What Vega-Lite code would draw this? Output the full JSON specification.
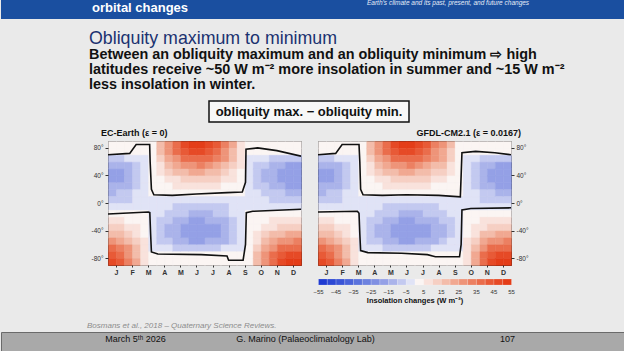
{
 "$schema": "https://vega.github.io/schema/vega-lite/v6.json",
 "padding": 0,
 "background": "#eaeaea",
 "spacing": 0,
 "config": {
  "font": "Liberation Sans",
  "view": {"stroke": null},
  "axis": {"labelFont": "Liberation Sans", "titleFont": "Liberation Sans", "grid": false, "domain": false},
  "title": {"font": "Liberation Sans", "subtitleFont": "Liberation Sans"}
 },
 "datasets": {
  "grid": [
   {"m":0.75,"l":85,"v":0.5},{"m":0.75,"l":75,"v":0.3},{"m":0.75,"l":65,"v":-6.6},{"m":0.75,"l":55,"v":-14.6},{"m":0.75,"l":45,"v":-17.9},{"m":0.75,"l":35,"v":-17.9},{"m":0.75,"l":25,"v":-15.0},{"m":0.75,"l":15,"v":-10.3},{"m":0.75,"l":5,"v":-7.5},{"m":0.75,"l":-5,"v":-4.7},{"m":0.75,"l":-15,"v":1.4},{"m":0.75,"l":-25,"v":6.6},{"m":0.75,"l":-35,"v":12.2},{"m":0.75,"l":-45,"v":19.7},{"m":0.75,"l":-55,"v":28.2},{"m":0.75,"l":-65,"v":36.7},{"m":0.75,"l":-75,"v":43.2},{"m":0.75,"l":-85,"v":47.9},
   {"m":1.25,"l":85,"v":0.4},{"m":1.25,"l":75,"v":0.2},{"m":1.25,"l":65,"v":-5.7},{"m":1.25,"l":55,"v":-12.7},{"m":1.25,"l":45,"v":-15.6},{"m":1.25,"l":35,"v":-15.6},{"m":1.25,"l":25,"v":-13.1},{"m":1.25,"l":15,"v":-9.0},{"m":1.25,"l":5,"v":-6.6},{"m":1.25,"l":-5,"v":-4.1},{"m":1.25,"l":-15,"v":1.2},{"m":1.25,"l":-25,"v":5.7},{"m":1.25,"l":-35,"v":10.7},{"m":1.25,"l":-45,"v":17.2},{"m":1.25,"l":-55,"v":24.6},{"m":1.25,"l":-65,"v":32.0},{"m":1.25,"l":-75,"v":37.7},{"m":1.25,"l":-85,"v":41.8},
   {"m":1.75,"l":85,"v":0.3},{"m":1.75,"l":75,"v":0.2},{"m":1.75,"l":65,"v":-4.6},{"m":1.75,"l":55,"v":-10.1},{"m":1.75,"l":45,"v":-12.4},{"m":1.75,"l":35,"v":-12.4},{"m":1.75,"l":25,"v":-10.4},{"m":1.75,"l":15,"v":-7.2},{"m":1.75,"l":5,"v":-5.2},{"m":1.75,"l":-5,"v":-3.3},{"m":1.75,"l":-15,"v":1.0},{"m":1.75,"l":-25,"v":4.6},{"m":1.75,"l":-35,"v":8.5},{"m":1.75,"l":-45,"v":13.7},{"m":1.75,"l":-55,"v":19.5},{"m":1.75,"l":-65,"v":25.4},{"m":1.75,"l":-75,"v":29.9},{"m":1.75,"l":-85,"v":33.2},
   {"m":2.25,"l":85,"v":0.2},{"m":2.25,"l":75,"v":0.1},{"m":2.25,"l":65,"v":-3.0},{"m":2.25,"l":55,"v":-6.7},{"m":2.25,"l":45,"v":-8.2},{"m":2.25,"l":35,"v":-8.2},{"m":2.25,"l":25,"v":-6.9},{"m":2.25,"l":15,"v":-4.7},{"m":2.25,"l":5,"v":-3.4},{"m":2.25,"l":-5,"v":-2.2},{"m":2.25,"l":-15,"v":0.6},{"m":2.25,"l":-25,"v":3.0},{"m":2.25,"l":-35,"v":5.6},{"m":2.25,"l":-45,"v":9.0},{"m":2.25,"l":-55,"v":12.9},{"m":2.25,"l":-65,"v":16.8},{"m":2.25,"l":-75,"v":19.8},{"m":2.25,"l":-85,"v":21.9},
   {"m":2.75,"l":85,"v":0.1},{"m":2.75,"l":75,"v":0.1},{"m":2.75,"l":65,"v":-1.3},{"m":2.75,"l":55,"v":-2.8},{"m":2.75,"l":45,"v":-3.4},{"m":2.75,"l":35,"v":-3.4},{"m":2.75,"l":25,"v":-2.9},{"m":2.75,"l":15,"v":-2.0},{"m":2.75,"l":5,"v":-1.4},{"m":2.75,"l":-5,"v":-0.9},{"m":2.75,"l":-15,"v":0.3},{"m":2.75,"l":-25,"v":1.3},{"m":2.75,"l":-35,"v":2.3},{"m":2.75,"l":-45,"v":3.8},{"m":2.75,"l":-55,"v":5.4},{"m":2.75,"l":-65,"v":7.0},{"m":2.75,"l":-75,"v":8.3},{"m":2.75,"l":-85,"v":9.2},
   {"m":3.25,"l":85,"v":4.1},{"m":3.25,"l":75,"v":3.7},{"m":3.25,"l":65,"v":3.1},{"m":3.25,"l":55,"v":2.4},{"m":3.25,"l":45,"v":1.7},{"m":3.25,"l":35,"v":1.0},{"m":3.25,"l":25,"v":0.6},{"m":3.25,"l":15,"v":0.1},{"m":3.25,"l":5,"v":-0.4},{"m":3.25,"l":-5,"v":-0.6},{"m":3.25,"l":-15,"v":-0.9},{"m":3.25,"l":-25,"v":-1.3},{"m":3.25,"l":-35,"v":-1.5},{"m":3.25,"l":-45,"v":-1.5},{"m":3.25,"l":-55,"v":-1.2},{"m":3.25,"l":-65,"v":-0.6},{"m":3.25,"l":-75,"v":0.0},{"m":3.25,"l":-85,"v":0.0},
   {"m":3.75,"l":85,"v":16.8},{"m":3.75,"l":75,"v":15.2},{"m":3.75,"l":65,"v":12.9},{"m":3.75,"l":55,"v":9.9},{"m":3.75,"l":45,"v":6.9},{"m":3.75,"l":35,"v":4.3},{"m":3.75,"l":25,"v":2.3},{"m":3.75,"l":15,"v":0.5},{"m":3.75,"l":5,"v":-1.7},{"m":3.75,"l":-5,"v":-2.6},{"m":3.75,"l":-15,"v":-3.6},{"m":3.75,"l":-25,"v":-5.3},{"m":3.75,"l":-35,"v":-6.3},{"m":3.75,"l":-45,"v":-6.3},{"m":3.75,"l":-55,"v":-5.1},{"m":3.75,"l":-65,"v":-2.3},{"m":3.75,"l":-75,"v":0.1},{"m":3.75,"l":-85,"v":0.2},
   {"m":4.25,"l":85,"v":29.1},{"m":4.25,"l":75,"v":26.2},{"m":4.25,"l":65,"v":22.2},{"m":4.25,"l":55,"v":17.1},{"m":4.25,"l":45,"v":12.0},{"m":4.25,"l":35,"v":7.4},{"m":4.25,"l":25,"v":4.0},{"m":4.25,"l":15,"v":0.9},{"m":4.25,"l":5,"v":-2.9},{"m":4.25,"l":-5,"v":-4.6},{"m":4.25,"l":-15,"v":-6.3},{"m":4.25,"l":-25,"v":-9.1},{"m":4.25,"l":-35,"v":-10.8},{"m":4.25,"l":-45,"v":-10.8},{"m":4.25,"l":-55,"v":-8.8},{"m":4.25,"l":-65,"v":-4.0},{"m":4.25,"l":-75,"v":0.2},{"m":4.25,"l":-85,"v":0.3},
   {"m":4.75,"l":85,"v":38.8},{"m":4.75,"l":75,"v":35.0},{"m":4.75,"l":65,"v":29.6},{"m":4.75,"l":55,"v":22.8},{"m":4.75,"l":45,"v":16.0},{"m":4.75,"l":35,"v":9.9},{"m":4.75,"l":25,"v":5.3},{"m":4.75,"l":15,"v":1.1},{"m":4.75,"l":5,"v":-3.8},{"m":4.75,"l":-5,"v":-6.1},{"m":4.75,"l":-15,"v":-8.4},{"m":4.75,"l":-25,"v":-12.2},{"m":4.75,"l":-35,"v":-14.4},{"m":4.75,"l":-45,"v":-14.4},{"m":4.75,"l":-55,"v":-11.8},{"m":4.75,"l":-65,"v":-5.3},{"m":4.75,"l":-75,"v":0.2},{"m":4.75,"l":-85,"v":0.4},
   {"m":5.25,"l":85,"v":45.9},{"m":5.25,"l":75,"v":41.4},{"m":5.25,"l":65,"v":35.1},{"m":5.25,"l":55,"v":27.0},{"m":5.25,"l":45,"v":18.9},{"m":5.25,"l":35,"v":11.7},{"m":5.25,"l":25,"v":6.3},{"m":5.25,"l":15,"v":1.4},{"m":5.25,"l":5,"v":-4.5},{"m":5.25,"l":-5,"v":-7.2},{"m":5.25,"l":-15,"v":-9.9},{"m":5.25,"l":-25,"v":-14.4},{"m":5.25,"l":-35,"v":-17.1},{"m":5.25,"l":-45,"v":-17.1},{"m":5.25,"l":-55,"v":-14.0},{"m":5.25,"l":-65,"v":-6.3},{"m":5.25,"l":-75,"v":0.3},{"m":5.25,"l":-85,"v":0.5},
   {"m":5.75,"l":85,"v":50.0},{"m":5.75,"l":75,"v":45.1},{"m":5.75,"l":65,"v":38.2},{"m":5.75,"l":55,"v":29.4},{"m":5.75,"l":45,"v":20.6},{"m":5.75,"l":35,"v":12.7},{"m":5.75,"l":25,"v":6.9},{"m":5.75,"l":15,"v":1.5},{"m":5.75,"l":5,"v":-4.9},{"m":5.75,"l":-5,"v":-7.8},{"m":5.75,"l":-15,"v":-10.8},{"m":5.75,"l":-25,"v":-15.7},{"m":5.75,"l":-35,"v":-18.6},{"m":5.75,"l":-45,"v":-18.6},{"m":5.75,"l":-55,"v":-15.2},{"m":5.75,"l":-65,"v":-6.9},{"m":5.75,"l":-75,"v":0.3},{"m":5.75,"l":-85,"v":0.5},
   {"m":6.25,"l":85,"v":51},{"m":6.25,"l":75,"v":46},{"m":6.25,"l":65,"v":39},{"m":6.25,"l":55,"v":30},{"m":6.25,"l":45,"v":21},{"m":6.25,"l":35,"v":13},{"m":6.25,"l":25,"v":7},{"m":6.25,"l":15,"v":1.5},{"m":6.25,"l":5,"v":-5},{"m":6.25,"l":-5,"v":-8},{"m":6.25,"l":-15,"v":-11},{"m":6.25,"l":-25,"v":-16},{"m":6.25,"l":-35,"v":-19},{"m":6.25,"l":-45,"v":-19},{"m":6.25,"l":-55,"v":-15.5},{"m":6.25,"l":-65,"v":-7},{"m":6.25,"l":-75,"v":0.3},{"m":6.25,"l":-85,"v":0.5},
   {"m":6.75,"l":85,"v":47.9},{"m":6.75,"l":75,"v":43.2},{"m":6.75,"l":65,"v":36.7},{"m":6.75,"l":55,"v":28.2},{"m":6.75,"l":45,"v":19.7},{"m":6.75,"l":35,"v":12.2},{"m":6.75,"l":25,"v":6.6},{"m":6.75,"l":15,"v":1.4},{"m":6.75,"l":5,"v":-4.7},{"m":6.75,"l":-5,"v":-7.5},{"m":6.75,"l":-15,"v":-10.3},{"m":6.75,"l":-25,"v":-15.0},{"m":6.75,"l":-35,"v":-17.9},{"m":6.75,"l":-45,"v":-17.9},{"m":6.75,"l":-55,"v":-14.6},{"m":6.75,"l":-65,"v":-6.6},{"m":6.75,"l":-75,"v":0.3},{"m":6.75,"l":-85,"v":0.5},
   {"m":7.25,"l":85,"v":41.8},{"m":7.25,"l":75,"v":37.7},{"m":7.25,"l":65,"v":32.0},{"m":7.25,"l":55,"v":24.6},{"m":7.25,"l":45,"v":17.2},{"m":7.25,"l":35,"v":10.7},{"m":7.25,"l":25,"v":5.7},{"m":7.25,"l":15,"v":1.2},{"m":7.25,"l":5,"v":-4.1},{"m":7.25,"l":-5,"v":-6.6},{"m":7.25,"l":-15,"v":-9.0},{"m":7.25,"l":-25,"v":-13.1},{"m":7.25,"l":-35,"v":-15.6},{"m":7.25,"l":-45,"v":-15.6},{"m":7.25,"l":-55,"v":-12.7},{"m":7.25,"l":-65,"v":-5.7},{"m":7.25,"l":-75,"v":0.2},{"m":7.25,"l":-85,"v":0.4},
   {"m":7.75,"l":85,"v":33.2},{"m":7.75,"l":75,"v":29.9},{"m":7.75,"l":65,"v":25.4},{"m":7.75,"l":55,"v":19.5},{"m":7.75,"l":45,"v":13.7},{"m":7.75,"l":35,"v":8.5},{"m":7.75,"l":25,"v":4.6},{"m":7.75,"l":15,"v":1.0},{"m":7.75,"l":5,"v":-3.3},{"m":7.75,"l":-5,"v":-5.2},{"m":7.75,"l":-15,"v":-7.2},{"m":7.75,"l":-25,"v":-10.4},{"m":7.75,"l":-35,"v":-12.4},{"m":7.75,"l":-45,"v":-12.4},{"m":7.75,"l":-55,"v":-10.1},{"m":7.75,"l":-65,"v":-4.6},{"m":7.75,"l":-75,"v":0.2},{"m":7.75,"l":-85,"v":0.3},
   {"m":8.25,"l":85,"v":21.9},{"m":8.25,"l":75,"v":19.8},{"m":8.25,"l":65,"v":16.8},{"m":8.25,"l":55,"v":12.9},{"m":8.25,"l":45,"v":9.0},{"m":8.25,"l":35,"v":5.6},{"m":8.25,"l":25,"v":3.0},{"m":8.25,"l":15,"v":0.6},{"m":8.25,"l":5,"v":-2.2},{"m":8.25,"l":-5,"v":-3.4},{"m":8.25,"l":-15,"v":-4.7},{"m":8.25,"l":-25,"v":-6.9},{"m":8.25,"l":-35,"v":-8.2},{"m":8.25,"l":-45,"v":-8.2},{"m":8.25,"l":-55,"v":-6.7},{"m":8.25,"l":-65,"v":-3.0},{"m":8.25,"l":-75,"v":0.1},{"m":8.25,"l":-85,"v":0.2},
   {"m":8.75,"l":85,"v":9.2},{"m":8.75,"l":75,"v":8.3},{"m":8.75,"l":65,"v":7.0},{"m":8.75,"l":55,"v":5.4},{"m":8.75,"l":45,"v":3.8},{"m":8.75,"l":35,"v":2.3},{"m":8.75,"l":25,"v":1.3},{"m":8.75,"l":15,"v":0.3},{"m":8.75,"l":5,"v":-0.9},{"m":8.75,"l":-5,"v":-1.4},{"m":8.75,"l":-15,"v":-2.0},{"m":8.75,"l":-25,"v":-2.9},{"m":8.75,"l":-35,"v":-3.4},{"m":8.75,"l":-45,"v":-3.4},{"m":8.75,"l":-55,"v":-2.8},{"m":8.75,"l":-65,"v":-1.3},{"m":8.75,"l":-75,"v":0.1},{"m":8.75,"l":-85,"v":0.1},
   {"m":9.25,"l":85,"v":0.0},{"m":9.25,"l":75,"v":0.0},{"m":9.25,"l":65,"v":-0.6},{"m":9.25,"l":55,"v":-1.2},{"m":9.25,"l":45,"v":-1.5},{"m":9.25,"l":35,"v":-1.5},{"m":9.25,"l":25,"v":-1.3},{"m":9.25,"l":15,"v":-0.9},{"m":9.25,"l":5,"v":-0.6},{"m":9.25,"l":-5,"v":-0.4},{"m":9.25,"l":-15,"v":0.1},{"m":9.25,"l":-25,"v":0.6},{"m":9.25,"l":-35,"v":1.0},{"m":9.25,"l":-45,"v":1.7},{"m":9.25,"l":-55,"v":2.4},{"m":9.25,"l":-65,"v":3.1},{"m":9.25,"l":-75,"v":3.7},{"m":9.25,"l":-85,"v":4.1},
   {"m":9.75,"l":85,"v":0.2},{"m":9.75,"l":75,"v":0.1},{"m":9.75,"l":65,"v":-2.3},{"m":9.75,"l":55,"v":-5.1},{"m":9.75,"l":45,"v":-6.3},{"m":9.75,"l":35,"v":-6.3},{"m":9.75,"l":25,"v":-5.3},{"m":9.75,"l":15,"v":-3.6},{"m":9.75,"l":5,"v":-2.6},{"m":9.75,"l":-5,"v":-1.7},{"m":9.75,"l":-15,"v":0.5},{"m":9.75,"l":-25,"v":2.3},{"m":9.75,"l":-35,"v":4.3},{"m":9.75,"l":-45,"v":6.9},{"m":9.75,"l":-55,"v":9.9},{"m":9.75,"l":-65,"v":12.9},{"m":9.75,"l":-75,"v":15.2},{"m":9.75,"l":-85,"v":16.8},
   {"m":10.25,"l":85,"v":0.3},{"m":10.25,"l":75,"v":0.2},{"m":10.25,"l":65,"v":-4.0},{"m":10.25,"l":55,"v":-8.8},{"m":10.25,"l":45,"v":-10.8},{"m":10.25,"l":35,"v":-10.8},{"m":10.25,"l":25,"v":-9.1},{"m":10.25,"l":15,"v":-6.3},{"m":10.25,"l":5,"v":-4.6},{"m":10.25,"l":-5,"v":-2.9},{"m":10.25,"l":-15,"v":0.9},{"m":10.25,"l":-25,"v":4.0},{"m":10.25,"l":-35,"v":7.4},{"m":10.25,"l":-45,"v":12.0},{"m":10.25,"l":-55,"v":17.1},{"m":10.25,"l":-65,"v":22.2},{"m":10.25,"l":-75,"v":26.2},{"m":10.25,"l":-85,"v":29.1},
   {"m":10.75,"l":85,"v":0.4},{"m":10.75,"l":75,"v":0.2},{"m":10.75,"l":65,"v":-5.3},{"m":10.75,"l":55,"v":-11.8},{"m":10.75,"l":45,"v":-14.4},{"m":10.75,"l":35,"v":-14.4},{"m":10.75,"l":25,"v":-12.2},{"m":10.75,"l":15,"v":-8.4},{"m":10.75,"l":5,"v":-6.1},{"m":10.75,"l":-5,"v":-3.8},{"m":10.75,"l":-15,"v":1.1},{"m":10.75,"l":-25,"v":5.3},{"m":10.75,"l":-35,"v":9.9},{"m":10.75,"l":-45,"v":16.0},{"m":10.75,"l":-55,"v":22.8},{"m":10.75,"l":-65,"v":29.6},{"m":10.75,"l":-75,"v":35.0},{"m":10.75,"l":-85,"v":38.8},
   {"m":11.25,"l":85,"v":0.5},{"m":11.25,"l":75,"v":0.3},{"m":11.25,"l":65,"v":-6.3},{"m":11.25,"l":55,"v":-14.0},{"m":11.25,"l":45,"v":-17.1},{"m":11.25,"l":35,"v":-17.1},{"m":11.25,"l":25,"v":-14.4},{"m":11.25,"l":15,"v":-9.9},{"m":11.25,"l":5,"v":-7.2},{"m":11.25,"l":-5,"v":-4.5},{"m":11.25,"l":-15,"v":1.4},{"m":11.25,"l":-25,"v":6.3},{"m":11.25,"l":-35,"v":11.7},{"m":11.25,"l":-45,"v":18.9},{"m":11.25,"l":-55,"v":27.0},{"m":11.25,"l":-65,"v":35.1},{"m":11.25,"l":-75,"v":41.4},{"m":11.25,"l":-85,"v":45.9},
   {"m":11.75,"l":85,"v":0.5},{"m":11.75,"l":75,"v":0.3},{"m":11.75,"l":65,"v":-6.9},{"m":11.75,"l":55,"v":-15.2},{"m":11.75,"l":45,"v":-18.6},{"m":11.75,"l":35,"v":-18.6},{"m":11.75,"l":25,"v":-15.7},{"m":11.75,"l":15,"v":-10.8},{"m":11.75,"l":5,"v":-7.8},{"m":11.75,"l":-5,"v":-4.9},{"m":11.75,"l":-15,"v":1.5},{"m":11.75,"l":-25,"v":6.9},{"m":11.75,"l":-35,"v":12.7},{"m":11.75,"l":-45,"v":20.6},{"m":11.75,"l":-55,"v":29.4},{"m":11.75,"l":-65,"v":38.2},{"m":11.75,"l":-75,"v":45.1},{"m":11.75,"l":-85,"v":50.0},
   {"m":12.25,"l":85,"v":0.5},{"m":12.25,"l":75,"v":0.3},{"m":12.25,"l":65,"v":-7},{"m":12.25,"l":55,"v":-15.5},{"m":12.25,"l":45,"v":-19},{"m":12.25,"l":35,"v":-19},{"m":12.25,"l":25,"v":-16},{"m":12.25,"l":15,"v":-11},{"m":12.25,"l":5,"v":-8},{"m":12.25,"l":-5,"v":-5},{"m":12.25,"l":-15,"v":1.5},{"m":12.25,"l":-25,"v":7},{"m":12.25,"l":-35,"v":13},{"m":12.25,"l":-45,"v":21},{"m":12.25,"l":-55,"v":30},{"m":12.25,"l":-65,"v":39},{"m":12.25,"l":-75,"v":46},{"m":12.25,"l":-85,"v":51}
  ],
  "gfdl": [
   {"m":8.25,"l":85,"v":27.5},{"m":8.25,"l":75,"v":24.8},{"m":8.25,"l":65,"v":21.1},{"m":8.25,"l":55,"v":16.2},{"m":8.25,"l":45,"v":11.3},{"m":8.25,"l":35,"v":7.0},{"m":8.25,"l":25,"v":3.8},{"m":8.25,"l":15,"v":0.8},{"m":8.25,"l":5,"v":-2.7},{"m":8.25,"l":-5,"v":-4.3},{"m":8.25,"l":-15,"v":-5.9},{"m":8.25,"l":-25,"v":-8.6},{"m":8.25,"l":-35,"v":-10.3},{"m":8.25,"l":-45,"v":-10.3},{"m":8.25,"l":-55,"v":-8.4},{"m":8.25,"l":-65,"v":-3.8},{"m":8.25,"l":-75,"v":0.2},{"m":8.25,"l":-85,"v":0.3},
   {"m":8.75,"l":85,"v":16.3},{"m":8.75,"l":75,"v":14.7},{"m":8.75,"l":65,"v":12.5},{"m":8.75,"l":55,"v":9.6},{"m":8.75,"l":45,"v":6.7},{"m":8.75,"l":35,"v":4.2},{"m":8.75,"l":25,"v":2.2},{"m":8.75,"l":15,"v":0.5},{"m":8.75,"l":5,"v":-1.6},{"m":8.75,"l":-5,"v":-2.6},{"m":8.75,"l":-15,"v":-3.5},{"m":8.75,"l":-25,"v":-5.1},{"m":8.75,"l":-35,"v":-6.1},{"m":8.75,"l":-45,"v":-6.1},{"m":8.75,"l":-55,"v":-5.0},{"m":8.75,"l":-65,"v":-2.2},{"m":8.75,"l":-75,"v":0.1},{"m":8.75,"l":-85,"v":0.2},
   {"m":9.25,"l":85,"v":3.8},{"m":9.25,"l":75,"v":3.5},{"m":9.25,"l":65,"v":2.9},{"m":9.25,"l":55,"v":2.3},{"m":9.25,"l":45,"v":1.6},{"m":9.25,"l":35,"v":1.0},{"m":9.25,"l":25,"v":0.5},{"m":9.25,"l":15,"v":0.1},{"m":9.25,"l":5,"v":-0.4},{"m":9.25,"l":-5,"v":-0.6},{"m":9.25,"l":-15,"v":-0.8},{"m":9.25,"l":-25,"v":-1.2},{"m":9.25,"l":-35,"v":-1.4},{"m":9.25,"l":-45,"v":-1.4},{"m":9.25,"l":-55,"v":-1.2},{"m":9.25,"l":-65,"v":-0.5},{"m":9.25,"l":-75,"v":0.0},{"m":9.25,"l":-85,"v":0.0},
   {"m":9.75,"l":85,"v":0.1},{"m":9.75,"l":75,"v":0.1},{"m":9.75,"l":65,"v":-1.3},{"m":9.75,"l":55,"v":-2.9},{"m":9.75,"l":45,"v":-3.6},{"m":9.75,"l":35,"v":-3.6},{"m":9.75,"l":25,"v":-3.0},{"m":9.75,"l":15,"v":-2.1},{"m":9.75,"l":5,"v":-1.5},{"m":9.75,"l":-5,"v":-1.0},{"m":9.75,"l":-15,"v":0.3},{"m":9.75,"l":-25,"v":1.3},{"m":9.75,"l":-35,"v":2.5},{"m":9.75,"l":-45,"v":4.0},{"m":9.75,"l":-55,"v":5.7},{"m":9.75,"l":-65,"v":7.4},{"m":9.75,"l":-75,"v":8.7},{"m":9.75,"l":-85,"v":9.7},
   {"m":10.25,"l":85,"v":0.2},{"m":10.25,"l":75,"v":0.1},{"m":10.25,"l":65,"v":-3.2},{"m":10.25,"l":55,"v":-7.0},{"m":10.25,"l":45,"v":-8.6},{"m":10.25,"l":35,"v":-8.6},{"m":10.25,"l":25,"v":-7.2},{"m":10.25,"l":15,"v":-5.0},{"m":10.25,"l":5,"v":-3.6},{"m":10.25,"l":-5,"v":-2.3},{"m":10.25,"l":-15,"v":0.7},{"m":10.25,"l":-25,"v":3.2},{"m":10.25,"l":-35,"v":5.9},{"m":10.25,"l":-45,"v":9.5},{"m":10.25,"l":-55,"v":13.5},{"m":10.25,"l":-65,"v":17.6},{"m":10.25,"l":-75,"v":20.7},{"m":10.25,"l":-85,"v":23.0}
  ],
  "zero": [
   {"k":"u","o":1,"m":0.5,"l":70},{"k":"u","o":2,"m":1.85,"l":72},{"k":"u","o":3,"m":2.25,"l":85},{"k":"u","o":4,"m":3.09,"l":85},{"k":"u","o":5,"m":3.12,"l":60},{"k":"u","o":6,"m":3.2,"l":20},{"k":"u","o":7,"m":3.35,"l":12},{"k":"u","o":8,"m":4.5,"l":11},{"k":"u","o":9,"m":6.0,"l":13},{"k":"u","o":10,"m":7.9,"l":15},{"k":"u","o":11,"m":8.85,"l":16},{"k":"u","o":12,"m":9.05,"l":30},{"k":"u","o":13,"m":9.08,"l":78},{"k":"u","o":14,"m":9.8,"l":80},{"k":"u","o":15,"m":11.0,"l":76},{"k":"u","o":16,"m":12.5,"l":68},
   {"k":"d","o":1,"m":0.5,"l":-16},{"k":"d","o":2,"m":3.0,"l":-13},{"k":"d","o":3,"m":3.1,"l":-14},{"k":"d","o":4,"m":3.15,"l":-45},{"k":"d","o":5,"m":3.2,"l":-71},{"k":"d","o":6,"m":3.6,"l":-74},{"k":"d","o":7,"m":6.3,"l":-75},{"k":"d","o":8,"m":7.9,"l":-77},{"k":"d","o":9,"m":8.0,"l":-83},{"k":"d","o":10,"m":8.9,"l":-83},{"k":"d","o":11,"m":9.05,"l":-60},{"k":"d","o":12,"m":9.1,"l":-14},{"k":"d","o":13,"m":9.5,"l":-12},{"k":"d","o":14,"m":12.5,"l":-9}
  ],
  "zeroG": [
   {"k":"u","o":1,"m":0.5,"l":70},{"k":"u","o":2,"m":1.6,"l":72},{"k":"u","o":3,"m":2.0,"l":85},{"k":"u","o":4,"m":3.05,"l":85},{"k":"u","o":5,"m":3.1,"l":60},{"k":"u","o":6,"m":3.15,"l":20},{"k":"u","o":7,"m":3.3,"l":12},{"k":"u","o":8,"m":4.5,"l":11},{"k":"u","o":9,"m":6.0,"l":12},{"k":"u","o":10,"m":8.0,"l":11},{"k":"u","o":11,"m":9.35,"l":9},{"k":"u","o":12,"m":9.4,"l":40},{"k":"u","o":13,"m":9.45,"l":73},{"k":"u","o":14,"m":10.3,"l":75},{"k":"u","o":15,"m":11.5,"l":73},{"k":"u","o":16,"m":12.5,"l":70},
   {"k":"d","o":1,"m":0.5,"l":-13},{"k":"d","o":2,"m":2.95,"l":-12},{"k":"d","o":3,"m":3.05,"l":-15},{"k":"d","o":4,"m":3.1,"l":-45},{"k":"d","o":5,"m":3.15,"l":-69},{"k":"d","o":6,"m":3.6,"l":-72},{"k":"d","o":7,"m":5.7,"l":-73},{"k":"d","o":8,"m":7.3,"l":-75},{"k":"d","o":9,"m":7.8,"l":-78},{"k":"d","o":10,"m":9.3,"l":-78},{"k":"d","o":11,"m":9.4,"l":-60},{"k":"d","o":12,"m":9.45,"l":-10},{"k":"d","o":13,"m":10.0,"l":-8},{"k":"d","o":14,"m":12.5,"l":-7}
  ],
  "cbar": [
   {"b":-52.5},{"b":-47.5},{"b":-42.5},{"b":-37.5},{"b":-32.5},{"b":-27.5},{"b":-22.5},{"b":-17.5},{"b":-12.5},{"b":-7.5},{"b":-2.5},{"b":2.5},{"b":7.5},{"b":12.5},{"b":17.5},{"b":22.5},{"b":27.5},{"b":32.5},{"b":37.5},{"b":42.5},{"b":47.5},{"b":52.5}
  ]
 },
 "vconcat": [
  {
   "width": 624, "height": 19,
   "view": {"fill": "#1a4fa0", "stroke": null},
   "data": {"values": [{}]},
   "title": {
    "text": "Obliquity maximum to minimum",
    "subtitle": ["Between an obliquity maximum and an obliquity minimum \u21e8 high", "latitudes receive ~50 W m\u207b\u00b2 more insolation in summer and ~15 W m\u207b\u00b2", "less insolation in winter."],
    "orient": "bottom", "anchor": "start", "frame": "group", "dx": 88, "offset": 11,
    "fontSize": 17.8, "fontWeight": "normal", "color": "#1b3270",
    "subtitleFontSize": 14.4, "subtitleFontWeight": "bold", "subtitleColor": "#111111", "subtitlePadding": 0.5, "subtitleLineHeight": 15
   },
   "layer": [
    {"mark": {"type": "text", "align": "left", "baseline": "alphabetic", "dx": -221, "dy": 2.5, "fontSize": 13, "fontWeight": "bold", "fill": "#ffffff"}, "encoding": {"text": {"value": "orbital changes"}}},
    {"mark": {"type": "text", "align": "left", "baseline": "alphabetic", "dx": 54, "dy": -4.3, "fontSize": 6.5, "fontStyle": "italic", "fill": "#e4ebf7"}, "encoding": {"text": {"value": "Earth\u2019s climate and its past, present, and future changes"}}}
   ]
  },
  {"width": 624, "height": 8, "data": {"values": []}, "mark": "point"},
  {
   "hconcat": [
    {"width": 208, "height": 21, "data": {"values": []}, "mark": "point"},
    {
     "width": 200, "height": 21,
     "view": {"fill": "#f7f7f7", "stroke": "#111111", "strokeWidth": 1.5},
     "data": {"values": [{}]},
     "mark": {"type": "text", "fontSize": 13, "fontWeight": "bold", "fill": "#111111"},
     "encoding": {"text": {"value": "obliquity max. \u2212 obliquity min."}}
    }
   ],
   "spacing": 0, "bounds": "flush"
  },
  {"width": 624, "height": 5, "data": {"values": []}, "mark": "point"},
  {
   "hconcat": [
    {"width": 90, "height": 124, "data": {"values": []}, "mark": "point"},
    {
     "width": 193, "height": 124,
     "view": {"stroke": "#111111", "strokeWidth": 1},
     "title": {"text": "EC-Earth (\u03b5 = 0)", "anchor": "start", "dx": 10, "offset": 3, "fontSize": 9, "fontWeight": "bold", "color": "#111111"},
     "layer": [
      {
       "data": {"name": "grid"},
       "mark": {"type": "rect", "strokeWidth": 0.5},
       "encoding": {
        "x": {"field": "m", "type": "quantitative", "bin": {"step": 0.5, "extent": [0.5, 12.5]}, "scale": {"domain": [0.5, 12.5], "nice": false, "zero": false},
              "axis": {"values": [1,2,3,4,5,6,7,8,9,10,11,12], "labelExpr": "['J','F','M','A','M','J','J','A','S','O','N','D'][datum.value - 1]", "title": null, "labelFontSize": 7, "labelFontWeight": "bold", "labelColor": "#333333", "tickSize": 2, "tickColor": "#333333", "labelPadding": 1, "labelFlush": false, "labelOverlap": false}},
        "y": {"field": "l", "type": "quantitative", "bin": {"step": 10, "extent": [-90, 90]}, "scale": {"domain": [-90, 90], "nice": false, "zero": false},
              "axis": {"values": [-80,-40,0,40,80], "labelExpr": "datum.value + '\u00b0'", "title": null, "labelFontSize": 6.5, "labelColor": "#333333", "tickSize": 3, "tickColor": "#333333", "labelPadding": 2, "labelFlush": false, "labelOverlap": false}},
        "color": {"field": "v", "type": "quantitative", "legend": null, "scale": {"type": "threshold", "domain": [-50,-45,-40,-35,-30,-25,-20,-15,-10,-5,0,5,10,15,20,25,30,35,40,45,50], "range": ["#1f3bd1","#2c48d4","#3a55d6","#4a63d9","#5b73dc","#6d82df","#8090e2","#94a0e6","#aab3ea","#c3c9f0","#e0e3f6","#fbf5f3","#f9e2dc","#f6cfc3","#f3bcaa","#f1a891","#ee9479","#ec8062","#ea6d4c","#e85a37","#e64a26","#e43d18"]}},
        "stroke": {"field": "v", "type": "quantitative", "legend": null, "scale": {"type": "threshold", "domain": [-50,-45,-40,-35,-30,-25,-20,-15,-10,-5,0,5,10,15,20,25,30,35,40,45,50], "range": ["#1f3bd1","#2c48d4","#3a55d6","#4a63d9","#5b73dc","#6d82df","#8090e2","#94a0e6","#aab3ea","#c3c9f0","#e0e3f6","#fbf5f3","#f9e2dc","#f6cfc3","#f3bcaa","#f1a891","#ee9479","#ec8062","#ea6d4c","#e85a37","#e64a26","#e43d18"]}}
       }
      },
      {
       "data": {"name": "zero"},
       "mark": {"type": "line", "stroke": "#111111", "strokeWidth": 1.6, "clip": true},
       "encoding": {"x": {"field": "m", "type": "quantitative"}, "y": {"field": "l", "type": "quantitative"}, "detail": {"field": "k"}, "order": {"field": "o"}}
      }
     ]
    },
    {
     "vconcat": [
      {
       "width": 193, "height": 124,
       "view": {"stroke": "#111111", "strokeWidth": 1},
       "title": {"text": "GFDL-CM2.1 (\u03b5 = 0.0167)", "anchor": "end", "dx": -7, "offset": 3, "fontSize": 9, "fontWeight": "bold", "color": "#111111"},
       "layer": [
        {
         "data": {"name": "grid"},
         "transform": [{"filter": "datum.m < 8 || datum.m > 10.5"}],
         "mark": {"type": "rect", "strokeWidth": 0.5},
         "encoding": {
          "x": {"field": "m", "type": "quantitative", "bin": {"step": 0.5, "extent": [0.5, 12.5]}, "scale": {"domain": [0.5, 12.5], "nice": false, "zero": false},
                "axis": {"values": [1,2,3,4,5,6,7,8,9,10,11,12], "labelExpr": "['J','F','M','A','M','J','J','A','S','O','N','D'][datum.value - 1]", "title": null, "labelFontSize": 7, "labelFontWeight": "bold", "labelColor": "#333333", "tickSize": 2, "tickColor": "#333333", "labelPadding": 1, "labelFlush": false, "labelOverlap": false}},
          "y": {"field": "l", "type": "quantitative", "bin": {"step": 10, "extent": [-90, 90]}, "scale": {"domain": [-90, 90], "nice": false, "zero": false},
                "axis": {"orient": "right", "values": [-80,-40,0,40,80], "labelExpr": "datum.value + '\u00b0'", "title": null, "labelFontSize": 6.5, "labelColor": "#333333", "tickSize": 3, "tickColor": "#333333", "labelPadding": 2, "labelFlush": false, "labelOverlap": false}},
          "color": {"field": "v", "type": "quantitative", "legend": null, "scale": {"type": "threshold", "domain": [-50,-45,-40,-35,-30,-25,-20,-15,-10,-5,0,5,10,15,20,25,30,35,40,45,50], "range": ["#1f3bd1","#2c48d4","#3a55d6","#4a63d9","#5b73dc","#6d82df","#8090e2","#94a0e6","#aab3ea","#c3c9f0","#e0e3f6","#fbf5f3","#f9e2dc","#f6cfc3","#f3bcaa","#f1a891","#ee9479","#ec8062","#ea6d4c","#e85a37","#e64a26","#e43d18"]}},
          "stroke": {"field": "v", "type": "quantitative", "legend": null, "scale": {"type": "threshold", "domain": [-50,-45,-40,-35,-30,-25,-20,-15,-10,-5,0,5,10,15,20,25,30,35,40,45,50], "range": ["#1f3bd1","#2c48d4","#3a55d6","#4a63d9","#5b73dc","#6d82df","#8090e2","#94a0e6","#aab3ea","#c3c9f0","#e0e3f6","#fbf5f3","#f9e2dc","#f6cfc3","#f3bcaa","#f1a891","#ee9479","#ec8062","#ea6d4c","#e85a37","#e64a26","#e43d18"]}}
         }
        },
        {
         "data": {"name": "gfdl"},
         "mark": {"type": "rect", "strokeWidth": 0.5},
         "encoding": {
          "x": {"field": "m", "type": "quantitative", "bin": {"step": 0.5, "extent": [0.5, 12.5]}, "scale": {"domain": [0.5, 12.5], "nice": false, "zero": false}},
          "y": {"field": "l", "type": "quantitative", "bin": {"step": 10, "extent": [-90, 90]}, "scale": {"domain": [-90, 90], "nice": false, "zero": false}},
          "color": {"field": "v", "type": "quantitative", "legend": null, "scale": {"type": "threshold", "domain": [-50,-45,-40,-35,-30,-25,-20,-15,-10,-5,0,5,10,15,20,25,30,35,40,45,50], "range": ["#1f3bd1","#2c48d4","#3a55d6","#4a63d9","#5b73dc","#6d82df","#8090e2","#94a0e6","#aab3ea","#c3c9f0","#e0e3f6","#fbf5f3","#f9e2dc","#f6cfc3","#f3bcaa","#f1a891","#ee9479","#ec8062","#ea6d4c","#e85a37","#e64a26","#e43d18"]}},
          "stroke": {"field": "v", "type": "quantitative", "legend": null, "scale": {"type": "threshold", "domain": [-50,-45,-40,-35,-30,-25,-20,-15,-10,-5,0,5,10,15,20,25,30,35,40,45,50], "range": ["#1f3bd1","#2c48d4","#3a55d6","#4a63d9","#5b73dc","#6d82df","#8090e2","#94a0e6","#aab3ea","#c3c9f0","#e0e3f6","#fbf5f3","#f9e2dc","#f6cfc3","#f3bcaa","#f1a891","#ee9479","#ec8062","#ea6d4c","#e85a37","#e64a26","#e43d18"]}}
         }
        },
        {
         "data": {"name": "zeroG"},
         "mark": {"type": "line", "stroke": "#111111", "strokeWidth": 1.6, "clip": true},
         "encoding": {"x": {"field": "m", "type": "quantitative"}, "y": {"field": "l", "type": "quantitative"}, "detail": {"field": "k"}, "order": {"field": "o"}}
        }
       ]
      },
      {
       "width": 193, "height": 6,
       "data": {"name": "cbar"},
       "mark": {"type": "rect", "stroke": "#ffffff", "strokeWidth": 0.3, "strokeOpacity": 0.6},
       "encoding": {
        "x": {"field": "b", "type": "quantitative", "bin": {"step": 5, "extent": [-55, 55]}, "scale": {"domain": [-55, 55], "nice": false, "zero": false},
              "axis": {"values": [-55,-45,-35,-25,-15,-5,5,15,25,35,45,55], "title": "Insolation changes (W m\u207b\u00b2)", "labelFontSize": 6, "labelColor": "#333333", "tickSize": 0, "labelPadding": 3, "titleFontSize": 7.5, "titleFontWeight": "bold", "titleColor": "#111111", "titlePadding": 2, "labelFlush": false, "labelOverlap": false}},
        "color": {"field": "b", "type": "quantitative", "legend": null, "scale": {"type": "threshold", "domain": [-50,-45,-40,-35,-30,-25,-20,-15,-10,-5,0,5,10,15,20,25,30,35,40,45,50], "range": ["#1f3bd1","#2c48d4","#3a55d6","#4a63d9","#5b73dc","#6d82df","#8090e2","#94a0e6","#aab3ea","#c3c9f0","#e0e3f6","#fbf5f3","#f9e2dc","#f6cfc3","#f3bcaa","#f1a891","#ee9479","#ec8062","#ea6d4c","#e85a37","#e64a26","#e43d18"]}}
       }
      }
     ],
     "spacing": 14, "bounds": "flush"
    }
   ],
   "spacing": 17, "bounds": "flush"
  },
  {"width": 624, "height": 17, "data": {"values": []}, "mark": "point"},
  {
   "width": 624, "height": 21,
   "view": {"fill": "#a9a9a9", "stroke": "#6a6a6a", "strokeWidth": 1},
   "data": {"values": [{}]},
   "title": {"text": "Bosmans et al., 2018 \u2013 Quaternary Science Reviews.", "anchor": "start", "frame": "group", "dx": 86, "offset": 2.5, "fontSize": 8, "fontWeight": "normal", "fontStyle": "italic", "color": "#8c8c8c"},
   "layer": [
    {"mark": {"type": "text", "fontSize": 9, "fill": "#111111", "dx": -177.5, "dy": -4}, "encoding": {"text": {"value": "March 5\u1d57\u02b0 2026"}}},
    {"mark": {"type": "text", "fontSize": 9, "fill": "#111111", "dx": -7.5, "dy": -4}, "encoding": {"text": {"value": "G. Marino (Palaeoclimatology Lab)"}}},
    {"mark": {"type": "text", "fontSize": 9, "fill": "#111111", "dx": 194.5, "dy": -4}, "encoding": {"text": {"value": "107"}}}
   ]
  }
 ]
}
